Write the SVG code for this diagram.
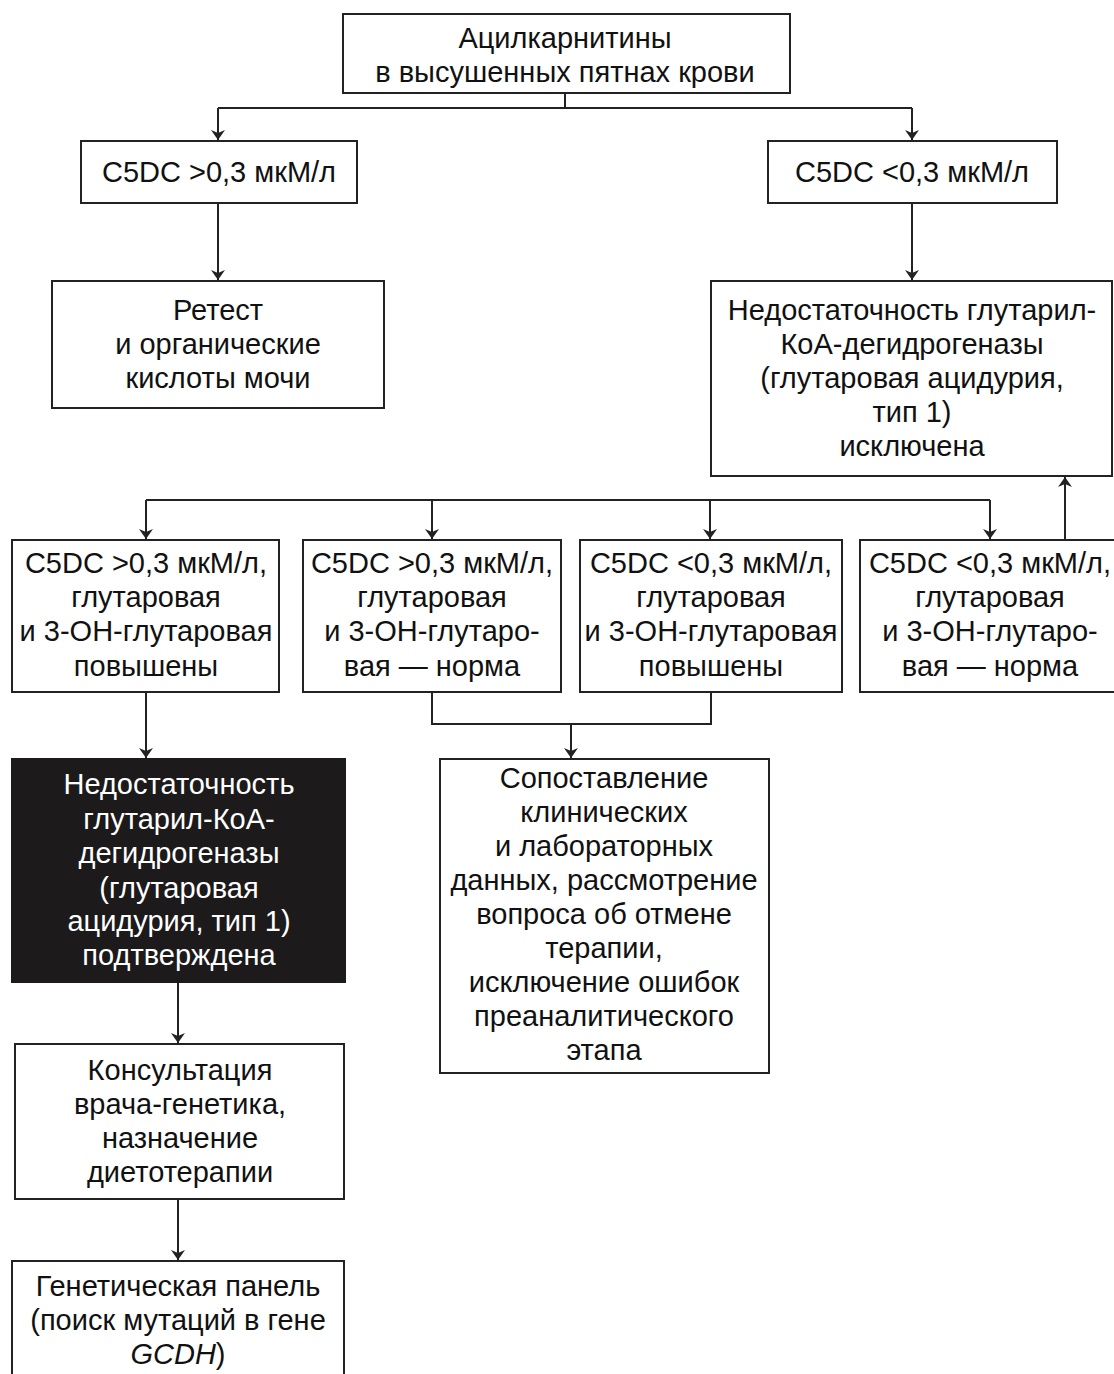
<svg xmlns="http://www.w3.org/2000/svg" width="1114" height="1374" viewBox="0 0 1114 1374">
<style>
.b{fill:#fff;stroke:#222;stroke-width:2}
.k{fill:#1c1a1a;stroke:#1c1a1a;stroke-width:2}
text{font-family:"Liberation Sans",Arial,sans-serif;font-size:29px;fill:#111;text-anchor:middle}
.w{fill:#fff}
.c{fill:none;stroke:#222;stroke-width:2}
</style>
<defs>
<marker id="a" viewBox="0 0 10 14" refX="10" refY="7" markerWidth="10" markerHeight="14" markerUnits="userSpaceOnUse" orient="auto">
<path d="M0,0 L10,7 L0,14 L3,7 Z" fill="#222"/>
</marker>
</defs>
<g id="connectors">
<path class="c" d="M565,93 V108 M218,108 H912"/>
<path class="c" d="M218,108 V140" marker-end="url(#a)"/>
<path class="c" d="M912,108 V140" marker-end="url(#a)"/>
<path class="c" d="M218,203 V280" marker-end="url(#a)"/>
<path class="c" d="M912,203 V280" marker-end="url(#a)"/>
<path class="c" d="M146,500 H990"/>
<path class="c" d="M146,500 V539" marker-end="url(#a)"/>
<path class="c" d="M432,500 V539" marker-end="url(#a)"/>
<path class="c" d="M710,500 V539" marker-end="url(#a)"/>
<path class="c" d="M990,500 V539" marker-end="url(#a)"/>
<path class="c" d="M1065,540 V477" marker-end="url(#a)"/>
<path class="c" d="M146,692 V758" marker-end="url(#a)"/>
<path class="c" d="M432,692 V724 H711 V692"/>
<path class="c" d="M571,724 V758" marker-end="url(#a)"/>
<path class="c" d="M178,982 V1043" marker-end="url(#a)"/>
<path class="c" d="M178,1199 V1260" marker-end="url(#a)"/>
</g>
<g id="n1"><rect class="b" x="343" y="14" width="447" height="79"/>
<text x="565" y="48">Ацилкарнитины</text><text x="565" y="82">в высушенных пятнах крови</text></g>
<g id="n2"><rect class="b" x="81" y="141" width="276" height="62"/>
<text x="219" y="182">C5DC &gt;0,3 мкМ/л</text></g>
<g id="n3"><rect class="b" x="768" y="141" width="289" height="62"/>
<text x="912" y="182">C5DC &lt;0,3 мкМ/л</text></g>
<g id="n4"><rect class="b" x="52" y="281" width="332" height="127"/>
<text x="218" y="320">Ретест</text><text x="218" y="354">и органические</text><text x="218" y="388">кислоты мочи</text></g>
<g id="n5"><rect class="b" x="711" y="281" width="401" height="195"/>
<text x="912" y="320">Недостаточность глутарил-</text><text x="912" y="354">КоА-дегидрогеназы</text><text x="912" y="388">(глутаровая ацидурия,</text><text x="912" y="422">тип 1)</text><text x="912" y="456">исключена</text></g>
<g id="n6"><rect class="b" x="12" y="540" width="267" height="152"/>
<text x="146" y="573">C5DC &gt;0,3 мкМ/л,</text><text x="146" y="607">глутаровая</text><text x="146" y="641">и 3-ОН-глутаровая</text><text x="146" y="676">повышены</text></g>
<g id="n7"><rect class="b" x="303" y="540" width="258" height="152"/>
<text x="432" y="573">C5DC &gt;0,3 мкМ/л,</text><text x="432" y="607">глутаровая</text><text x="432" y="641">и 3-ОН-глутаро-</text><text x="432" y="676">вая — норма</text></g>
<g id="n8"><rect class="b" x="580" y="540" width="262" height="152"/>
<text x="711" y="573">C5DC &lt;0,3 мкМ/л,</text><text x="711" y="607">глутаровая</text><text x="711" y="641">и 3-ОН-глутаровая</text><text x="711" y="676">повышены</text></g>
<g id="n9"><rect class="b" x="860" y="540" width="260" height="152"/>
<text x="990" y="573">C5DC &lt;0,3 мкМ/л,</text><text x="990" y="607">глутаровая</text><text x="990" y="641">и 3-ОН-глутаро-</text><text x="990" y="676">вая — норма</text></g>
<g id="n10"><rect class="k" x="12" y="759" width="333" height="223"/>
<text class="w" x="179" y="794">Недостаточность</text><text class="w" x="179" y="829">глутарил-КоА-</text><text class="w" x="179" y="863">дегидрогеназы</text><text class="w" x="179" y="898">(глутаровая</text><text class="w" x="179" y="931">ацидурия, тип 1)</text><text class="w" x="179" y="965">подтверждена</text></g>
<g id="n11"><rect class="b" x="440" y="759" width="329" height="314"/>
<text x="604" y="788">Сопоставление</text><text x="604" y="822">клинических</text><text x="604" y="856">и лабораторных</text><text x="604" y="890">данных, рассмотрение</text><text x="604" y="924">вопроса об отмене</text><text x="604" y="958">терапии,</text><text x="604" y="992">исключение ошибок</text><text x="604" y="1026">преаналитического</text><text x="604" y="1060">этапа</text></g>
<g id="n12"><rect class="b" x="15" y="1044" width="329" height="155"/>
<text x="180" y="1080">Консультация</text><text x="180" y="1114">врача-генетика,</text><text x="180" y="1148">назначение</text><text x="180" y="1182">диетотерапии</text></g>
<g id="n13"><rect class="b" x="12" y="1261" width="332" height="130"/>
<text x="178" y="1296">Генетическая панель</text><text x="178" y="1330">(поиск мутаций в гене</text><text x="178" y="1364"><tspan font-style="italic">GCDH</tspan>)</text></g>
</svg>
